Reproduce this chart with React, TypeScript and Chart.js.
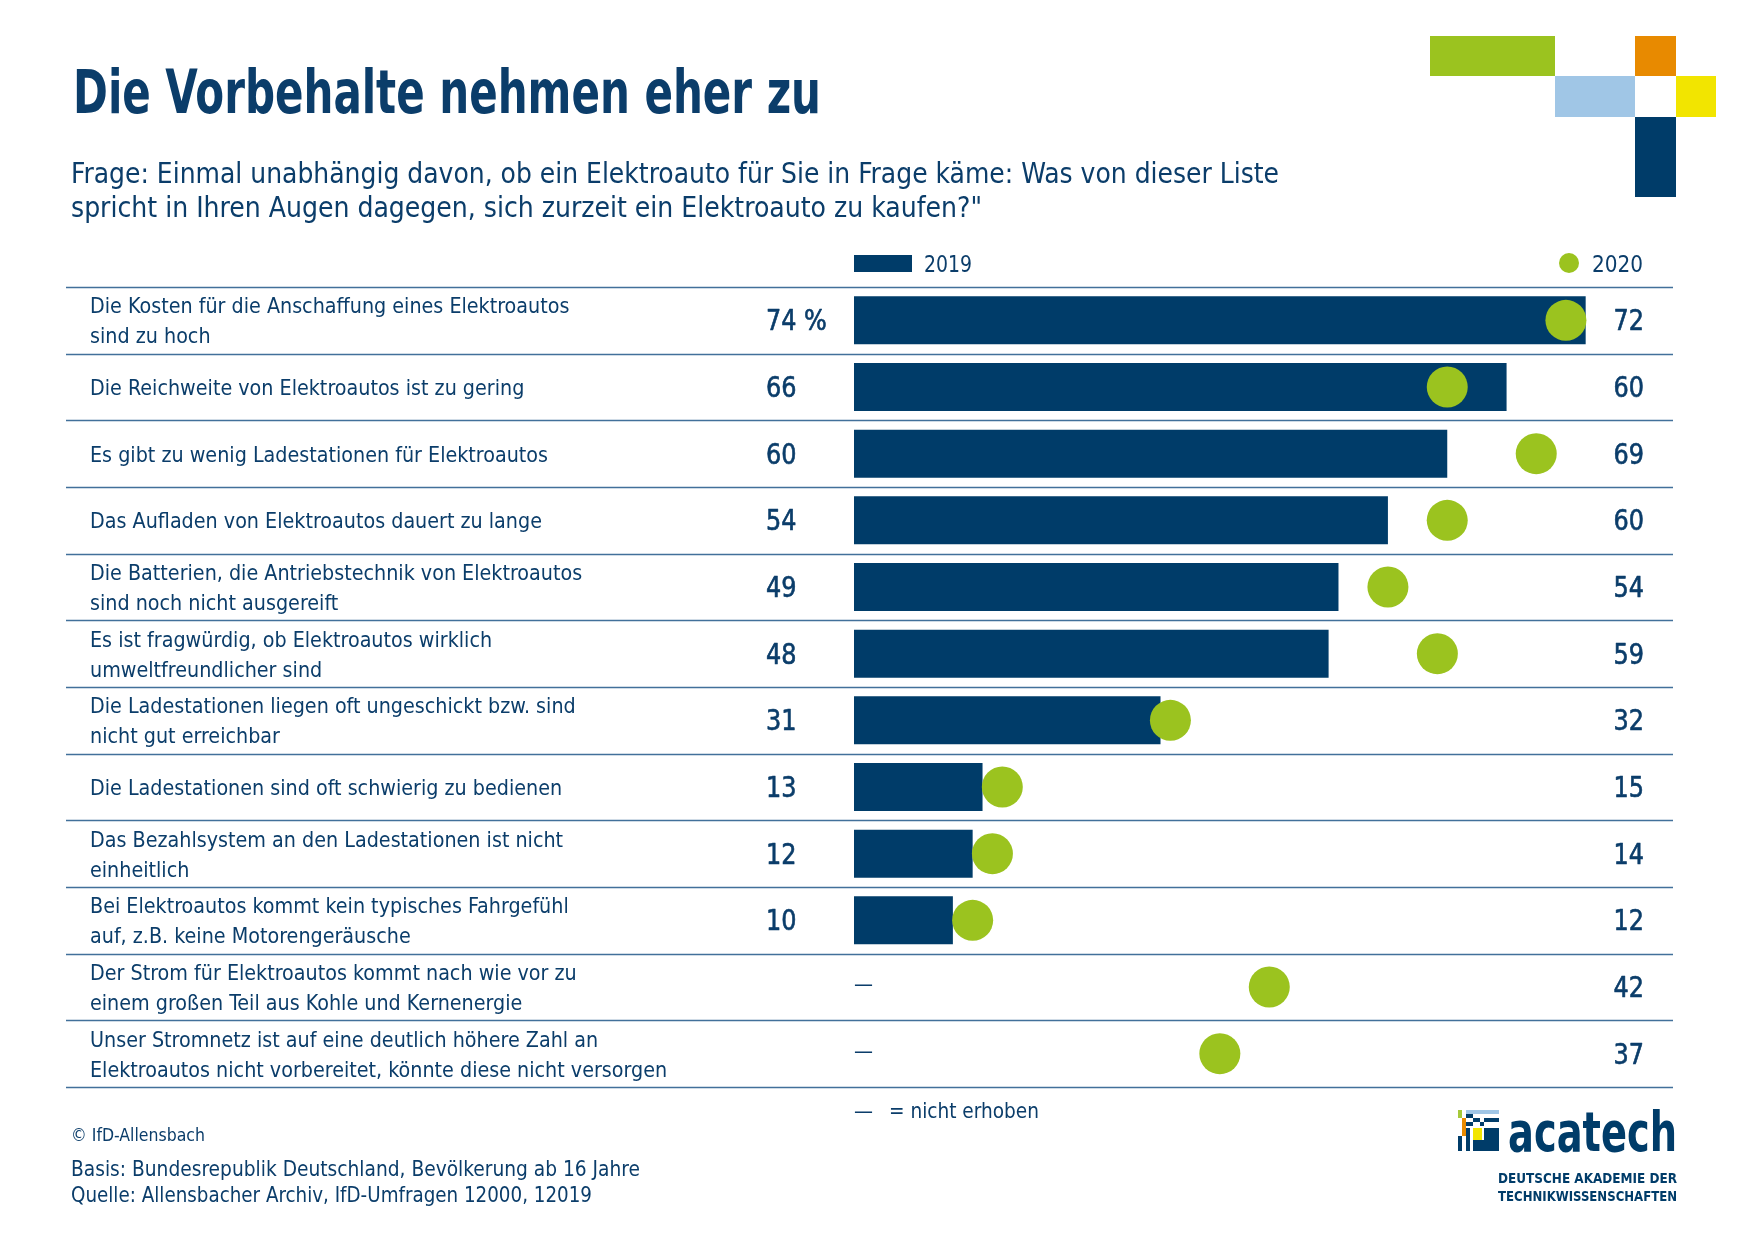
import React, { useEffect, useRef } from 'react';
import { Chart, registerables } from 'chart.js';

Chart.register(...registerables);

// ---------- data ----------
const categories: string[][] = [
  ['Die Kosten für die Anschaffung eines Elektroautos', 'sind zu hoch'],
  ['Die Reichweite von Elektroautos ist zu gering'],
  ['Es gibt zu wenig Ladestationen für Elektroautos'],
  ['Das Aufladen von Elektroautos dauert zu lange'],
  ['Die Batterien, die Antriebstechnik von Elektroautos', 'sind noch nicht ausgereift'],
  ['Es ist fragwürdig, ob Elektroautos wirklich', 'umweltfreundlicher sind'],
  ['Die Ladestationen liegen oft ungeschickt bzw. sind', 'nicht gut erreichbar'],
  ['Die Ladestationen sind oft schwierig zu bedienen'],
  ['Das Bezahlsystem an den Ladestationen ist nicht', 'einheitlich'],
  ['Bei Elektroautos kommt kein typisches Fahrgefühl', 'auf, z.B. keine Motorengeräusche'],
  ['Der Strom für Elektroautos kommt nach wie vor zu', 'einem großen Teil aus Kohle und Kernenergie'],
  ['Unser Stromnetz ist auf eine deutlich höhere Zahl an', 'Elektroautos nicht vorbereitet, könnte diese nicht versorgen'],
];
const values2019: (number | null)[] = [74, 66, 60, 54, 49, 48, 31, 13, 12, 10, null, null];
const values2020: number[] = [72, 60, 69, 60, 54, 59, 32, 15, 14, 12, 42, 37];
const seriesNames = ['2019', '2020'];
const xMin = 0;
const xMax = 80;

const titleText = 'Die Vorbehalte nehmen eher zu';
const subtitleLines = [
  'Frage: Einmal unabhängig davon, ob ein Elektroauto für Sie in Frage käme: Was von dieser Liste',
  'spricht in Ihren Augen dagegen, sich zurzeit ein Elektroauto zu kaufen?"',
];
const missingNote = '= nicht erhoben';
const copyrightText = '© IfD-Allensbach';
const sourceLines = [
  'Basis: Bundesrepublik Deutschland, Bevölkerung ab 16 Jahre',
  'Quelle: Allensbacher Archiv, IfD-Umfragen 12000, 12019',
];
const logoName = 'acatech';
const logoSubLines = ['DEUTSCHE AKADEMIE DER', 'TECHNIKWISSENSCHAFTEN'];

// ---------- styles ----------
const NAVY = '#003c69';
const TEXT = '#0b3d6a';
const GREEN = '#9bc31f';
const RULE = '#42709a';
const ORANGE = '#e88a00';
const YELLOW = '#f2e500';
const LIGHTBLUE = '#a0c6e6';

function pickFamily(cands: string[]): string {
  const c = document.createElement('canvas').getContext('2d');
  if (!c) return 'Liberation Sans';
  const s = 'abcdefghijklmnopqrstuvwxyz ABCDEFGHIJKLM 0123456789 äöüß';
  c.font = '40px monospace';
  const b1 = c.measureText(s).width;
  c.font = '40px serif';
  const b2 = c.measureText(s).width;
  for (const f of cands) {
    c.font = `40px "${f}", monospace`;
    const w1 = c.measureText(s).width;
    c.font = `40px "${f}", serif`;
    const w2 = c.measureText(s).width;
    if (w1 !== b1 || w2 !== b2) return f;
  }
  return 'Liberation Sans';
}

export default function App() {
  const ref = useRef<HTMLCanvasElement | null>(null);

  useEffect(() => {
    const canvas = ref.current;
    if (!canvas) return;
    const fam0 = pickFamily(['Liberation Sans Narrow', 'DejaVu Sans Condensed', 'Liberation Sans']);
    const FAM = `"${fam0}", "Liberation Sans", Arial, sans-serif`;

    const txt = (
      ctx: CanvasRenderingContext2D,
      s: string,
      x: number,
      y: number,
      font: string,
      color: string,
      align: CanvasTextAlign = 'left',
      width?: number,
      kx?: number,
      stroke?: number,
    ) => {
      ctx.save();
      ctx.font = font;
      ctx.fillStyle = color;
      ctx.strokeStyle = color;
      ctx.textBaseline = 'alphabetic';
      ctx.textAlign = align;
      let k = 1;
      if (width) k = width / ctx.measureText(s).width;
      else if (kx) k = kx;
      ctx.translate(x, y);
      ctx.scale(k, 1);
      ctx.fillText(s, 0, 0);
      if (stroke) {
        ctx.lineWidth = stroke;
        ctx.lineJoin = 'round';
        ctx.strokeText(s, 0, 0);
      }
      ctx.restore();
    };

    const decor = {
      id: 'decor',
      beforeDatasetsDraw(chart: any) {
        const ctx: CanvasRenderingContext2D = chart.ctx;
        const ys = chart.scales.y;
        const n = categories.length;
        const p0 = ys.getPixelForValue(0);
        const step = ys.getPixelForValue(1) - p0;
        ctx.save();
        ctx.strokeStyle = RULE;
        ctx.lineWidth = 1.5;
        for (let i = 0; i <= n; i++) {
          const y = Math.round(p0 - step / 2 + i * step) + 0.5;
          ctx.beginPath();
          ctx.moveTo(66, y);
          ctx.lineTo(1673, y);
          ctx.stroke();
        }
        ctx.restore();
      },
      afterDraw(chart: any) {
        const ctx: CanvasRenderingContext2D = chart.ctx;
        const ys = chart.scales.y;
        const xs = chart.scales.x;
        const x0 = xs.getPixelForValue(0);

        // title & subtitle
        txt(ctx, titleText, 73, 113, `bold 60px ${FAM}`, TEXT, 'left', 748);
        txt(ctx, subtitleLines[0], 71, 183, `28px ${FAM}`, TEXT, 'left', 1208);
        txt(ctx, subtitleLines[1], 71, 217, `28px ${FAM}`, TEXT, 'left', 911);

        // corner logo squares
        ctx.save();
        ctx.fillStyle = GREEN; ctx.fillRect(1430, 36, 125, 40);
        ctx.fillStyle = ORANGE; ctx.fillRect(1635, 36, 41, 40);
        ctx.fillStyle = LIGHTBLUE; ctx.fillRect(1555, 76, 80, 41);
        ctx.fillStyle = YELLOW; ctx.fillRect(1676, 76, 40, 41);
        ctx.fillStyle = NAVY; ctx.fillRect(1635, 117, 41, 80);
        ctx.restore();

        // legend
        ctx.save();
        ctx.fillStyle = NAVY;
        ctx.fillRect(x0, 255, 58, 17);
        ctx.fillStyle = GREEN;
        ctx.beginPath();
        ctx.arc(1569, 263, 10, 0, Math.PI * 2);
        ctx.fill();
        ctx.restore();
        txt(ctx, seriesNames[0], 924, 272, `23px ${FAM}`, TEXT, 'left', 48);
        txt(ctx, seriesNames[1], 1592, 272, `23px ${FAM}`, TEXT, 'left', 51);

        // category labels + value columns
        for (let i = 0; i < categories.length; i++) {
          const cy = ys.getPixelForValue(i);
          const lines = categories[i];
          const lh = 30;
          const top = cy - ((lines.length - 1) * lh) / 2;
          lines.forEach((ln, j) => {
            txt(ctx, ln, 90, top + j * lh + 8, `22px ${FAM}`, TEXT, 'left', undefined, 0.968);
          });
          const v19 = values2019[i];
          if (v19 === null) {
            txt(ctx, '—', x0, cy + 4, `22px ${FAM}`, TEXT, 'left', 19);
          } else {
            txt(ctx, i === 0 ? `${v19} %` : `${v19}`, 766, cy + 10, `28px ${FAM}`, TEXT, 'left', undefined, 0.95, 0.6);
          }
          txt(ctx, `${values2020[i]}`, 1644, cy + 10, `28px ${FAM}`, TEXT, 'right', undefined, 0.95, 0.6);
        }

        // footer
        txt(ctx, '—', x0, 1118, `22px ${FAM}`, TEXT, 'left', 19);
        txt(ctx, missingNote, 889, 1118, `22px ${FAM}`, TEXT, 'left', 150);
        txt(ctx, copyrightText, 71, 1141, `18px ${FAM}`, TEXT, 'left', 134);
        txt(ctx, sourceLines[0], 71, 1176, `21px ${FAM}`, TEXT, 'left', 569);
        txt(ctx, sourceLines[1], 71, 1202, `21px ${FAM}`, TEXT, 'left', 521);

        // acatech logo
        ctx.save();
        const bx = 1458, by = 1110;
        ctx.fillStyle = '#a6c93a'; ctx.fillRect(bx, by, 4, 8);
        ctx.fillStyle = LIGHTBLUE; ctx.fillRect(bx + 8, by, 33, 4);
        ctx.fillStyle = ORANGE; ctx.fillRect(bx + 4, by + 8, 4, 18);
        ctx.fillStyle = NAVY;
        ctx.fillRect(bx + 8, by + 4, 7, 4);
        ctx.fillRect(bx + 15, by + 8, 7, 4);
        ctx.fillRect(bx + 26, by + 8, 15, 4);
        ctx.fillRect(bx + 8, by + 12, 7, 4);
        ctx.fillRect(bx + 22, by + 12, 4, 4);
        ctx.fillRect(bx, by + 26, 4, 15);
        ctx.fillRect(bx + 8, by + 18, 4, 23);
        ctx.fillRect(bx + 26, by + 18, 15, 23);
        ctx.fillRect(bx + 15, by + 30, 11, 11);
        ctx.fillStyle = YELLOW; ctx.fillRect(bx + 15, by + 18, 9, 12);
        ctx.restore();
        txt(ctx, logoName, 1508, 1151, `bold 56px ${FAM}`, NAVY, 'left', 169);
        txt(ctx, logoSubLines[0], 1498, 1183, `bold 14px ${FAM}`, NAVY, 'left', 179);
        txt(ctx, logoSubLines[1], 1498, 1201, `bold 14px ${FAM}`, NAVY, 'left', 179);
      },
    };

    const chart = new Chart(canvas, {
      type: 'bar',
      data: {
        labels: categories as any,
        datasets: [
          {
            type: 'line',
            label: seriesNames[1],
            data: values2020,
            indexAxis: 'y',
            showLine: false,
            pointRadius: 20.5,
            pointHoverRadius: 20.5,
            pointBackgroundColor: GREEN,
            pointBorderWidth: 0,
            borderColor: GREEN,
            backgroundColor: GREEN,
            order: 0,
            clip: false,
          } as any,
          {
            type: 'bar',
            label: seriesNames[0],
            data: values2019 as any,
            backgroundColor: NAVY,
            categoryPercentage: 1,
            barPercentage: 0.72,
            order: 1,
          },
        ],
      },
      options: {
        indexAxis: 'y',
        animation: false,
        responsive: false,
        maintainAspectRatio: false,
        events: [],
        layout: { padding: { left: 87, right: 110, top: 287, bottom: 154 } },
        plugins: { legend: { display: false }, tooltip: { enabled: false } },
        scales: {
          x: { type: 'linear', min: xMin, max: xMax, display: false },
          y: {
            type: 'category',
            offset: true,
            grid: { display: false },
            border: { display: false },
            ticks: { display: false, autoSkip: false },
            afterFit: (s: any) => {
              s.width = 854 - 87;
            },
          },
        },
      } as any,
      plugins: [decor],
    });
    return () => chart.destroy();
  }, []);

  return (
    <div style={{ position: 'absolute', left: 0, top: 0, width: 1755, height: 1241, background: '#fff' }}>
      <canvas ref={ref} width={1755} height={1241} style={{ width: 1755, height: 1241, display: 'block' }} />
    </div>
  );
}
